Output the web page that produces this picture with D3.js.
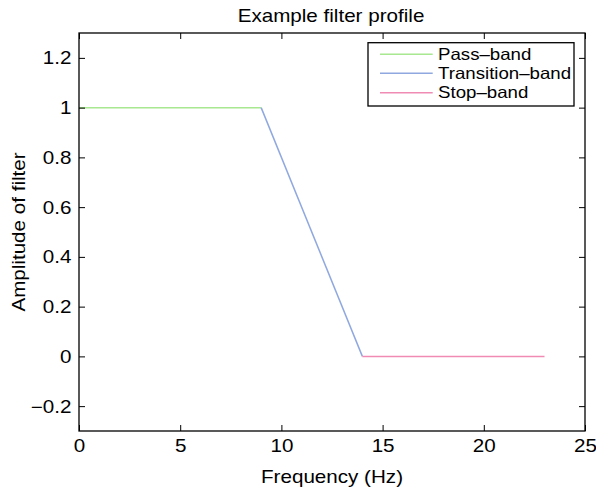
<!DOCTYPE html>
<html>
<head>
<meta charset="utf-8">
<script src="https://cdn.jsdelivr.net/npm/d3@7"></script>
<style>
  html, body { margin: 0; padding: 0; background: #fff; }
  svg text { font-family: "Liberation Sans", Arial, Helvetica, sans-serif; fill: #000; }
</style>
</head>
<body>
<svg id="chart" width="596" height="491"></svg>
<script>
// ---- data ----
const seriesNames = ["Pass\u2013band", "Transition\u2013band", "Stop\u2013band"];
const seriesColors = ["#a8e890", "#8fa8e0", "#f08cb4"];
const passX = [0, 9];
const passY = [1, 1];
const transX = [9, 14];
const transY = [1, 0];
const stopX = [14, 23];
const stopY = [0, 0];
const xTicks = [0, 5, 10, 15, 20, 25];
const yTicks = [-0.2, 0, 0.2, 0.4, 0.6, 0.8, 1, 1.2];
const titleText = "Example filter profile";
const xLabel = "Frequency (Hz)";
const yLabel = "Amplitude of filter";

// ---- layout ----
const L = 79, R = 585, T = 33, B = 431;
const FS = 17.7, SX = 1.165; // font size and horizontal stretch
const LFS = 16.3, LSX = 1.145; // legend font size and stretch
const svg = d3.select("#chart");

const x = d3.scaleLinear().domain([0, 25]).range([L, R]);
const y = d3.scaleLinear().domain([-0.3, 1.3]).range([B, T]);

function fmt(v) {
  if (Math.abs(v) < 1e-9) return "0";
  const s = d3.format("~g")(v);
  return s.replace("-", "\u2013");
}

// lines
const seriesData = [
  passX.map((d, i) => [d, passY[i]]),
  transX.map((d, i) => [d, transY[i]]),
  stopX.map((d, i) => [d, stopY[i]])
];
const line = d3.line().x(d => x(d[0])).y(d => y(d[1]));
seriesData.forEach((s, i) => {
  svg.append("path").datum(s).attr("d", line)
    .attr("fill", "none").attr("stroke", seriesColors[i]).attr("stroke-width", 1.5);
});

// axes (inward ticks, mirrored)
const tl = 6;
const gB = svg.append("g").attr("transform", `translate(0,${B})`)
  .call(d3.axisBottom(x).tickValues(xTicks).tickSizeInner(-tl).tickSizeOuter(0).tickFormat(fmt));
const gT = svg.append("g").attr("transform", `translate(0,${T})`)
  .call(d3.axisTop(x).tickValues(xTicks).tickSizeInner(-tl).tickSizeOuter(0).tickFormat(""));
const gL = svg.append("g").attr("transform", `translate(${L},0)`)
  .call(d3.axisLeft(y).tickValues(yTicks).tickSizeInner(-tl).tickSizeOuter(0).tickFormat(fmt));
const gR = svg.append("g").attr("transform", `translate(${R},0)`)
  .call(d3.axisRight(y).tickValues(yTicks).tickSizeInner(-tl).tickSizeOuter(0).tickFormat(""));

[gB, gT, gL, gR].forEach(g => {
  g.select(".domain").remove();
  g.selectAll(".tick line").attr("stroke", "#000").attr("stroke-width", 1);
  g.selectAll(".tick text").attr("font-size", FS)
    .attr("font-family", "'Liberation Sans', Arial, sans-serif").attr("fill", "#000");
});
gB.selectAll(".tick text").attr("dy", null).attr("y", 21).attr("transform", `scale(${SX},1)`);
gL.selectAll(".tick text").attr("dy", "0.34em").attr("x", -7.5 / SX).attr("transform", `scale(${SX},1)`);

// frame
svg.append("rect").attr("x", L).attr("y", T).attr("width", R - L).attr("height", B - T)
  .attr("fill", "none").attr("stroke", "#000").attr("stroke-width", 1.3);

// title & labels
function stretchedText(tx, ty, str, rot) {
  return svg.append("text")
    .attr("transform", rot ? `translate(${tx},${ty}) rotate(-90) scale(${SX},1)` : `translate(${tx},${ty}) scale(${SX},1)`)
    .attr("text-anchor", "middle").attr("font-size", FS).text(str);
}
stretchedText(331, 22, titleText, false);
stretchedText(332, 483, xLabel, false);
stretchedText(25, 232, yLabel, true);

// legend
const lg = svg.append("g");
lg.append("rect").attr("x", 368).attr("y", 42.7).attr("width", 206).attr("height", 63.3)
  .attr("fill", "#fff").attr("stroke", "#000").attr("stroke-width", 1.3);
const rowY = [54.3, 73.3, 92.7];
seriesNames.forEach((n, i) => {
  lg.append("line").attr("x1", 380).attr("x2", 432.7).attr("y1", rowY[i]).attr("y2", rowY[i])
    .attr("stroke", seriesColors[i]).attr("stroke-width", 1.5);
  lg.append("text").attr("transform", `translate(438,${rowY[i]}) scale(${LSX},1)`)
    .attr("dy", "0.35em").attr("font-size", LFS).text(n);
});
</script>
</body>
</html>
